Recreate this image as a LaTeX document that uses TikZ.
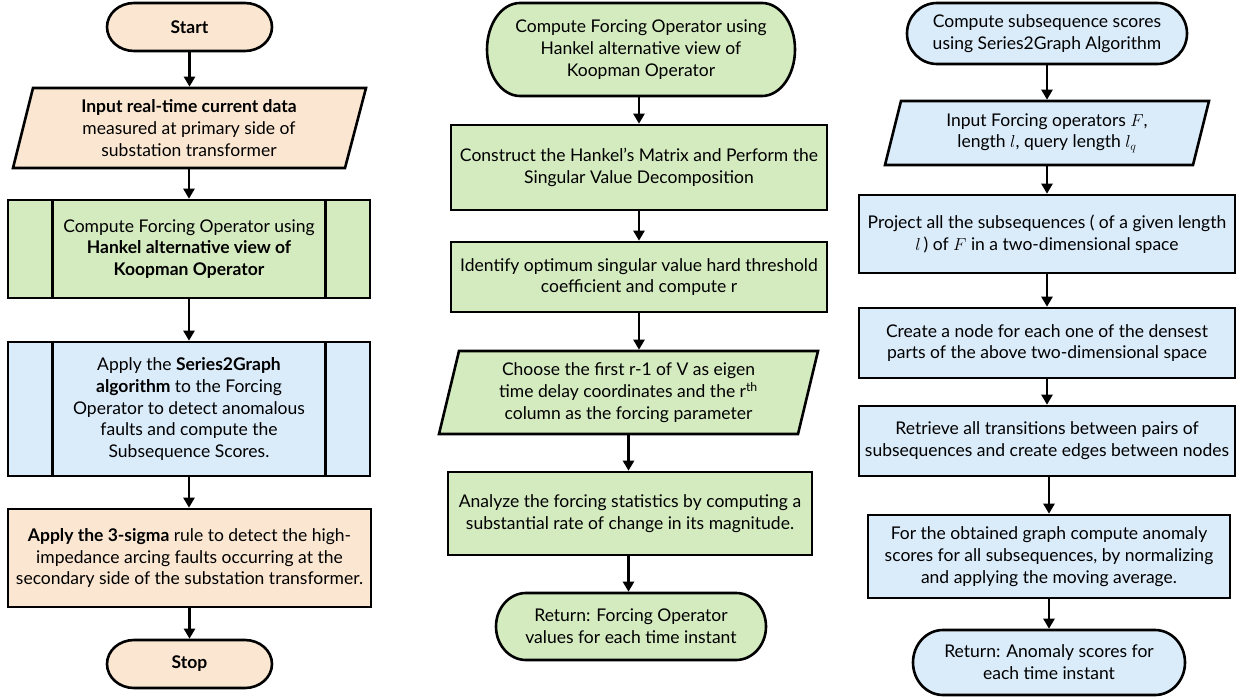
\documentclass[tikz,border=0pt]{standalone}
\usepackage{fontspec}
\setmainfont{Lato}
\usetikzlibrary{arrows.meta,calc}
\definecolor{peach}{HTML}{FBE7D1}
\definecolor{lgreen}{HTML}{D4EABF}
\definecolor{lblue}{HTML}{DAEBFA}
\tikzset{
  box/.style={draw=black, line width=2.6pt, line join=miter},
  txt/.style={align=center, inner sep=0pt, font=\fontsize{17.5}{21.8}\selectfont},
  arr/.style={line width=2.3pt, -{Triangle[width=11pt,length=10pt]}},
}
% terminator: name, x1, y1, x2, y2, rx, colour, text
\newcommand\term[8]{%
  \pgfmathsetmacro\tcy{(#3+#5)/2}%
  \pgfmathsetmacro\try{(#5-#3)/2}%
  \draw[box,fill=#7] ({#2+#6},#3) -- ({#4-#6},#3)
    .. controls ({#4-#6+0.5523*#6},#3) and (#4,{\tcy-0.5523*\try}) .. (#4,\tcy)
    .. controls (#4,{\tcy+0.5523*\try}) and ({#4-#6+0.5523*#6},#5) .. ({#4-#6},#5)
    -- ({#2+#6},#5)
    .. controls ({#2+#6-0.5523*#6},#5) and (#2,{\tcy+0.5523*\try}) .. (#2,\tcy)
    .. controls (#2,{\tcy-0.5523*\try}) and ({#2+#6-0.5523*#6},#3) .. cycle;
  \node[txt,outer sep=1.3pt,minimum width={#4-#2},minimum height={#5-#3}] (#1) at ({(#2+#4)/2},\tcy) {#8};
}
% parallelogram: name, ytop, ybot, TL, TR, BL, BR, colour, text
\newcommand\para[9]{%
  \draw[box,fill=#8] (#4,#2) -- (#5,#2) -- (#7,#3) -- (#6,#3) -- cycle;
  \node[txt,outer sep=1.3pt,minimum width={#5-#6},minimum height={#3-#2}] (#1) at ({(#4+#7)/2},{(#2+#3)/2}) {#9};
}
% rectangle: name, x1, y1, x2, y2, colour, text
\newcommand\rbox[7]{%
  \node[box,txt,fill=#6,minimum width={#4-#2},minimum height={#5-#3}] (#1) at ({(#2+#4)/2},{(#3+#5)/2}) {#7};
}
% predefined process bars
\newcommand\bars[1]{%
  \draw[box] ($(#1.north west)+(46,0)$) -- ($(#1.south west)+(46,0)$);
  \draw[box] ($(#1.north east)+(-46,0)$) -- ($(#1.south east)+(-46,0)$);
}
\begin{document}
\begin{tikzpicture}[x=1pt,y=-1pt]
\useasboundingbox (0,0) rectangle (1239,698);
% ---------- column 1 ----------
\term{start}{107}{3}{272}{51}{27}{peach}{\textbf{Start}}
\para{inp}{88}{168}{33}{366}{13}{345}{peach}{\textbf{Input real-time current data}\\measured at primary side of\\substation transformer}
\rbox{hank}{8}{200}{370}{298}{lgreen}{Compute Forcing Operator using\\\textbf{Hankel alternative view of}\\\textbf{Koopman Operator}}
\bars{hank}
\rbox{s2g}{8}{342}{370}{476}{lblue}{Apply the \textbf{Series2Graph}\\\textbf{algorithm} to the Forcing\\Operator to detect anomalous\\faults and compute the\\Subsequence Scores.}
\bars{s2g}
\rbox{sig}{8}{509}{371}{607}{peach}{\textbf{Apply the 3-sigma} rule to detect the high-\\impedance arcing faults occurring at the\\secondary side of the substation transformer.}
\term{stop}{107}{640}{272}{688}{27}{peach}{\textbf{Stop}}
\draw[arr] (start.south) -- (start.south |- inp.north);
\draw[arr] (inp.south) -- (inp.south |- hank.north);
\draw[arr] (hank.south) -- (s2g.north);
\draw[arr] (s2g.south) -- (s2g.south |- sig.north);
\draw[arr] (sig.south) -- (sig.south |- stop.north);
% ---------- column 2 ----------
\term{kt}{487}{3}{795}{96}{33}{lgreen}{Compute Forcing Operator using\\Hankel alternative view of\\Koopman Operator}
\rbox{con}{451}{125}{827}{210}{lgreen}{Construct the Hankel’s Matrix and Perform the\\Singular Value Decomposition}
\rbox{ide}{451}{242}{827}{312}{lgreen}{Identify optimum singular value hard threshold\\coefficient and compute r}
\para{cho}{351}{434}{459}{818}{439}{798}{lgreen}{Choose the first r-1 of V as eigen\\time delay coordinates and the r\textsuperscript{th}\\column as the forcing parameter}
\rbox{ana}{448}{472}{812}{555}{lgreen}{Analyze the forcing statistics by computing a\\substantial rate of change in its magnitude.}
\term{kr}{496}{593}{766}{660}{30}{lgreen}{Return: Forcing Operator\\values for each time instant}
\draw[arr] (con.north |- kt.south) -- (con.north);
\draw[arr] (con.south) -- (ide.north);
\draw[arr] (ide.south) -- (ide.south |- cho.north);
\draw[arr] (cho.south) -- (cho.south |- ana.north);
\draw[arr] (cho.south |- ana.south) -- (cho.south |- kr.north);
% ---------- column 3 ----------
\term{st}{907}{3}{1187}{64}{30}{lblue}{Compute subsequence scores\\using Series2Graph Algorithm}
\para{sin}{101}{165}{901}{1209}{885}{1193}{lblue}{Input Forcing operators $F$,\\length $l$, query length $l_q$}
\rbox{pro}{859}{195}{1235}{273}{lblue}{Project all the subsequences ( of a given length\\$l$\,) of $F$ in a two-dimensional space}
\rbox{cre}{859}{308}{1235}{378}{lblue}{Create a node for each one of the densest\\parts of the above two-dimensional space}
\rbox{ret}{859}{406}{1235}{476}{lblue}{Retrieve all transitions between pairs of\\subsequences and create edges between nodes}
\rbox{obt}{868}{515}{1230}{598}{lblue}{For the obtained graph compute anomaly\\scores for all subsequences, by normalizing\\and applying the moving average.}
\term{sr}{913}{630}{1185}{695}{30}{lblue}{Return: Anomaly scores for\\each time instant}
\draw[arr] (st.south) -- (st.south |- sin.north);
\draw[arr] (sin.south) -- (sin.south |- pro.north);
\draw[arr] (pro.south) -- (cre.north);
\draw[arr] (cre.south) -- (ret.north);
\draw[arr] (obt.north |- ret.south) -- (obt.north);
\draw[arr] (obt.south) -- (obt.south |- sr.north);
\end{tikzpicture}
\end{document}
